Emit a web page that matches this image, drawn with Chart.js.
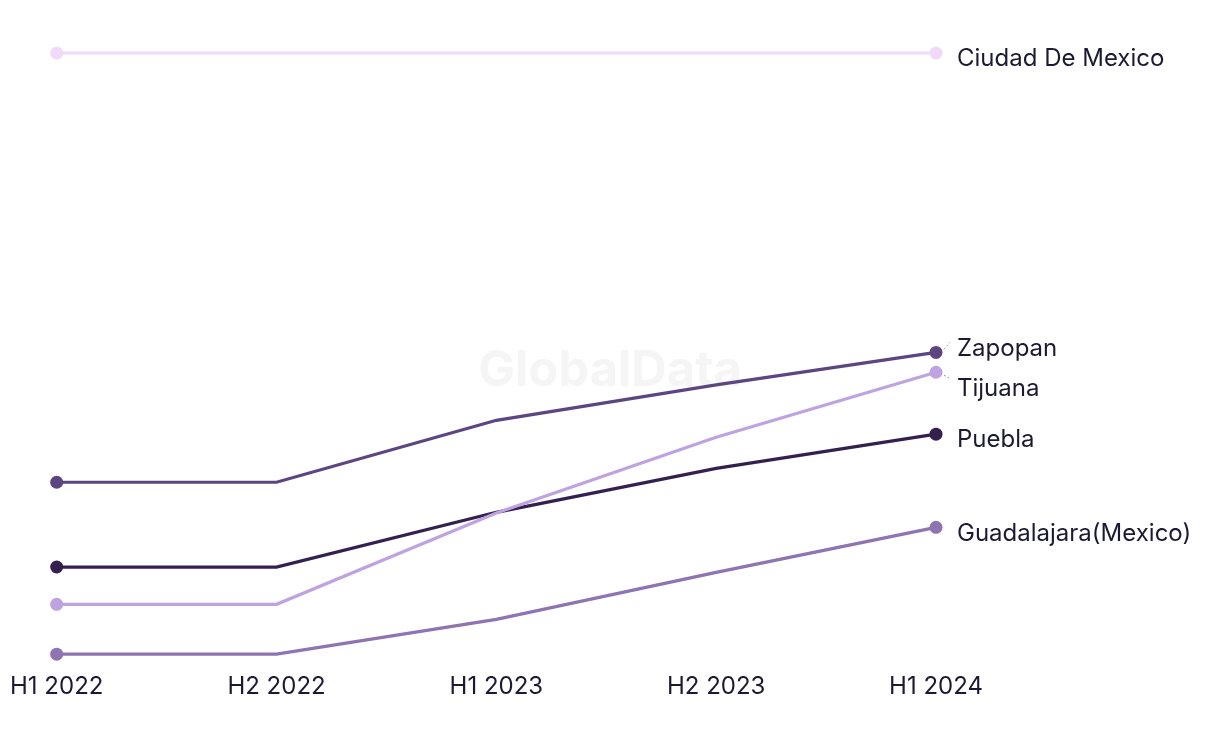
<!DOCTYPE html>
<html>
<head>
<meta charset="utf-8">
<script src="https://cdn.jsdelivr.net/npm/chart.js@4"></script>
<style>
  html, body { margin: 0; padding: 0; background: #ffffff; }
  #wrap { width: 1220px; height: 744px; position: relative; }
</style>
</head>
<body>
<div id="wrap"><canvas id="chart"></canvas></div>
<script>
// categories and series
const periods = ['H1 2022', 'H2 2022', 'H1 2023', 'H2 2023', 'H1 2024'];
const cities = ['Ciudad De Mexico', 'Zapopan', 'Tijuana', 'Puebla', 'Guadalajara(Mexico)'];
const ciudadDeMexico = [100, 100, 100, 100, 100];
const zapopan = [28.6, 28.6, 38.9, 44.8, 50.2];
const tijuana = [8.3, 8.3, 23.5, 36.1, 46.9];
const puebla = [14.5, 14.5, 23.6, 30.9, 36.6];
const guadalajara = [0, 0, 5.8, 13.6, 21.1];
const cityColors = ['#f0d9fa', '#5c4580', '#bfa3e0', '#33204f', '#8e74b0'];

const seriesValues = [ciudadDeMexico, zapopan, tijuana, puebla, guadalajara];
const textColor = '#1c1a33';
const fontFamily = 'Inter, "Noto Sans", sans-serif';

// only the first and last point get a dot
function endPointRadius(ctx) {
    return (ctx.dataIndex === 0 || ctx.dataIndex === periods.length - 1) ? 6.5 : 0;
}

// faint watermark behind the lines
const watermark = {
    id: 'watermark',
    beforeDatasetsDraw(chart) {
        const c = chart.ctx;
        c.save();
        c.font = 'bold 49px ' + fontFamily;
        c.fillStyle = '#f5f5f5';
        c.textAlign = 'center';
        c.textBaseline = 'middle';
        c.fillText('GlobalData', chart.width / 2, 371);
        c.restore();
    }
};

// city names at the end of each line, pushed apart when they collide
const endLabels = {
    id: 'endLabels',
    afterDatasetsDraw(chart) {
        const c = chart.ctx;
        const items = chart.data.datasets.map((ds, i) => {
            const pt = chart.getDatasetMeta(i).data[periods.length - 1];
            return { text: ds.label, x: pt.x, y: pt.y, ly: pt.y };
        }).sort((a, b) => a.y - b.y);

        const gap = 40;
        for (let pass = 0; pass < 10; pass++) {
            for (let i = 1; i < items.length; i++) {
                const a = items[i - 1], b = items[i];
                if (b.ly - a.ly < gap) {
                    const mid = (a.ly + b.ly) / 2;
                    a.ly = mid - gap / 2;
                    b.ly = mid + gap / 2;
                }
            }
        }

        c.save();
        c.font = '24px ' + fontFamily;
        c.fillStyle = textColor;
        c.textBaseline = 'middle';
        items.forEach(it => {
            if (Math.abs(it.ly - it.y) > 1) {
                c.strokeStyle = '#9a9aa6';
                c.lineWidth = 1;
                c.setLineDash([2, 2]);
                c.beginPath();
                c.moveTo(it.x + 8, it.y + (it.ly > it.y ? 3 : -3));
                c.lineTo(it.x + 14, it.ly + (it.ly > it.y ? -4 : 0));
                c.stroke();
                c.setLineDash([]);
            }
            c.fillText(it.text, it.x + 21, it.ly + 6);
        });
        c.restore();
    }
};

const datasets = cities.map((name, i) => ({
    label: name,
    data: seriesValues[i],
    borderColor: cityColors[i],
    backgroundColor: cityColors[i],
    borderWidth: 3.2,
    pointRadius: endPointRadius,
    pointHoverRadius: endPointRadius,
    pointBorderWidth: 0,
    tension: 0,
    clip: false
}));

new Chart(document.getElementById('chart'), {
    type: 'line',
    data: { labels: periods, datasets: datasets },
    options: {
        responsive: true,
        maintainAspectRatio: false,
        animation: false,
        layout: { padding: { left: 52, right: 284, top: 53, bottom: 33 } },
        scales: {
            x: {
                offset: false,
                grid: { display: false },
                border: { display: false },
                ticks: {
                    color: textColor,
                    font: { family: fontFamily, size: 24 },
                    padding: 10,
                    maxRotation: 0
                }
            },
            y: {
                display: false,
                min: 0,
                max: 100
            }
        },
        plugins: {
            legend: { display: false },
            tooltip: { enabled: false }
        }
    },
    plugins: [watermark, endLabels]
});
</script>
</body>
</html>
